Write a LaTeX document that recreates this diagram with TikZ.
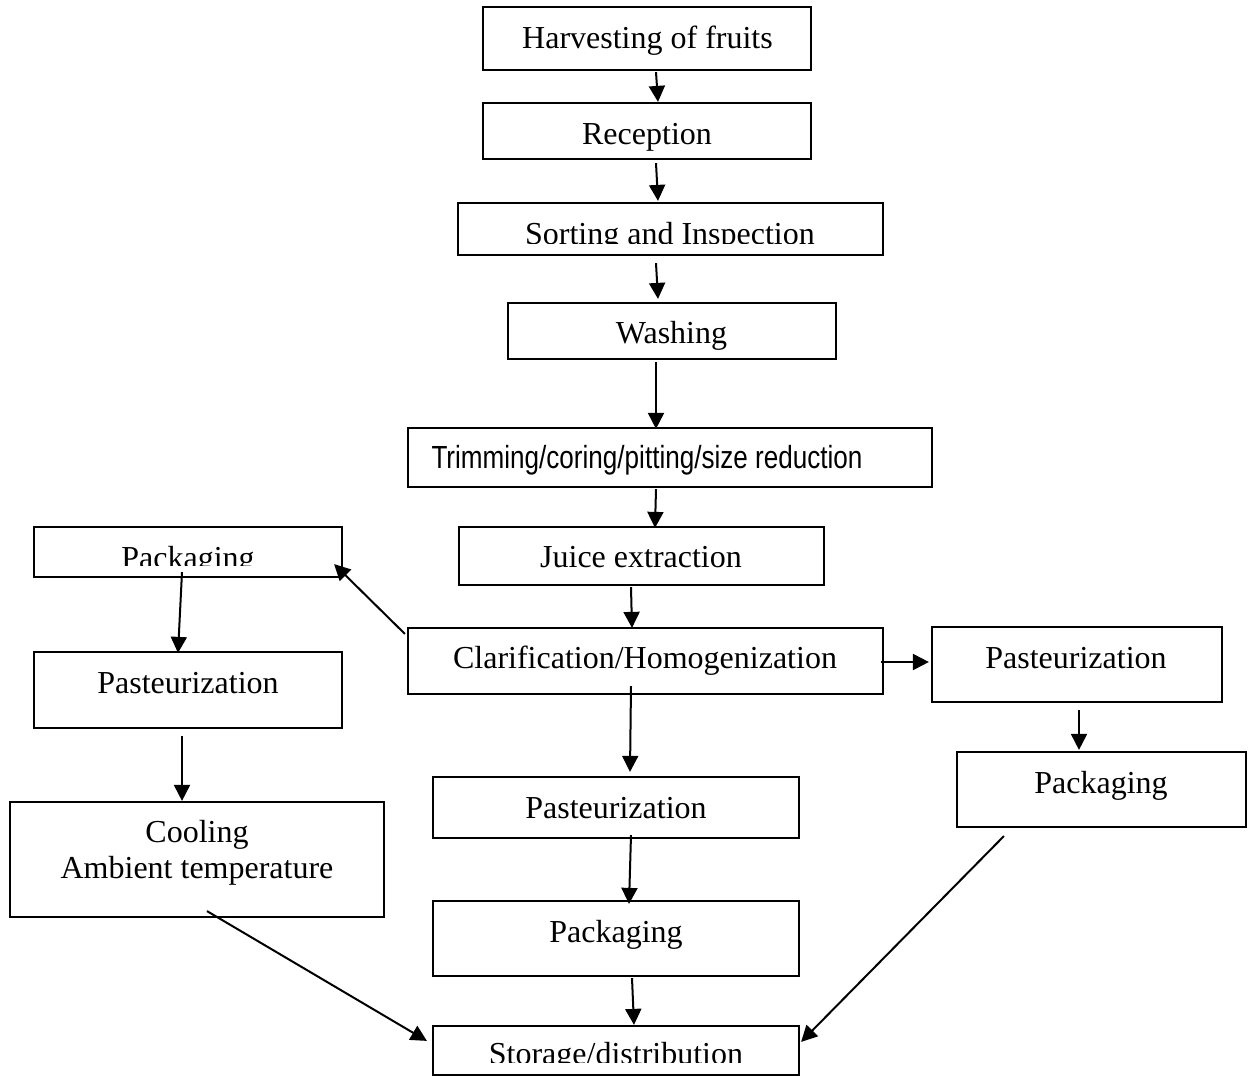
\documentclass[tikz,border=0pt]{standalone}
\usepackage{fontspec}
\setmainfont{Liberation Serif}
\newfontfamily\narrowsans[FakeStretch=0.815]{Liberation Sans}
\usetikzlibrary{arrows.meta,calc}
\begin{document}
\begin{tikzpicture}[x=0.5pt,y=-0.5pt,
  box/.style={draw, line width=1.1pt, inner sep=0pt, rectangle},
  lbl/.style={anchor=base, inner sep=0pt, font=\fontsize{16}{19}\selectfont},
  arr/.style={-{Triangle[length=8pt,width=8pt]}, line width=1pt}]
\useasboundingbox (0,0) rectangle (1249,1076);

% boxes
\node[box, minimum width=164pt, minimum height=31.5pt] (harv) at (647,38.5) {};
\node[box, minimum width=164pt, minimum height=28pt] (rec) at (647,131) {};
\node[box, minimum width=212.5pt, minimum height=26pt] (sort) at (670.5,229) {};
\node[box, minimum width=164pt, minimum height=28pt] (wash) at (672,331) {};
\node[box, minimum width=262pt, minimum height=29.5pt] (trim) at (670,457.5) {};
\node[box, minimum width=182.5pt, minimum height=29pt] (juice) at (641.5,556) {};
\node[box, minimum width=237.5pt, minimum height=33pt] (clar) at (645.5,661) {};
\node[box, minimum width=154pt, minimum height=25pt] (pkgL) at (188,552) {};
\node[box, minimum width=154pt, minimum height=38pt] (pasL) at (188,690) {};
\node[box, minimum width=187pt, minimum height=57.5pt] (cool) at (197,859.5) {};
\node[box, minimum width=145pt, minimum height=37.5pt] (pasR) at (1077,664.5) {};
\node[box, minimum width=144.5pt, minimum height=37.5pt] (pkgR) at (1101.5,789.5) {};
\node[box, minimum width=183pt, minimum height=30.5pt] (pasC) at (616,807.5) {};
\node[box, minimum width=183pt, minimum height=37.5pt] (pkgC) at (616,938.5) {};
\node[box, minimum width=183pt, minimum height=24.5pt] (stor) at (616,1050.5) {};

% labels
\node[lbl] (harvT) at (647.5,48) {Harvesting of fruits};
\node[lbl] (recT) at (647,144) {Reception};
\begin{scope}
  \clip (459,204) rectangle (882,243);
  \node[lbl] (sortT) at (670,244) {Sorting and Inspection};
\end{scope}
\node[lbl] (washT) at (671.5,343) {Washing};
\node[lbl, font=\fontsize{16}{19}\narrowsans] (trimT) at (647,468) {Trimming/coring/pitting/size reduction};
\node[lbl] (juiceT) at (641,567) {Juice extraction};
\node[lbl] (clarT) at (645,668) {Clarification/Homogenization};
\begin{scope}
  \clip (35,528) rectangle (341,565);
  \node[lbl] (pkgLT) at (188,568) {Packaging};
\end{scope}
\node[lbl] (pasLT) at (188,693) {Pasteurization};
\node[lbl] (coolT) at (197,842) {Cooling};
\node[lbl] (coolT2) at (197,878) {Ambient temperature};
\node[lbl] (pasRT) at (1076,668) {Pasteurization};
\node[lbl] (pkgRT) at (1101,793) {Packaging};
\node[lbl] (pasCT) at (616,818) {Pasteurization};
\node[lbl] (pkgCT) at (616,942) {Packaging};
\begin{scope}
  \clip (434,1027) rectangle (798,1062);
  \node[lbl] (storT) at (616,1064) {Storage/distribution};
\end{scope}

% connectors
\draw[arr] ($(harv.south)+(9,1)$) -- ($(rec.north)+(11,0)$);
\draw[arr] ($(rec.south)+(9,3)$) -- ($(sort.north)+(-12.5,-1)$);
\draw[arr] ($(sort.south)+(-14.5,7)$) -- ($(wash.north)+(-14,-3)$);
\draw[arr] ($(wash.south)+(-16,2)$) -- ($(trim.north)+(-14,2)$);
\draw[arr] ($(trim.south)+(-14,1)$) -- ($(juice.north)+(13.5,2)$);
\draw[arr] ($(juice.south)+(-10.5,1)$) -- ($(clar.north)+(-13.5,1)$);
\draw[arr] ($(clar.north west)+(-2,7)$) -- ($(pkgL.south east)+(-9,-14)$);
\draw[arr] ($(pkgL.south)+(-6,-6)$) -- ($(pasL.north)+(-10,2)$);
\draw[arr] ($(pasL.south)+(-6,7)$) -- ($(cool.north)+(-15,0)$);
\draw[arr] ($(cool.south)+(10,-7)$) -- ($(stor.north west)+(-5,16)$);
\draw[arr] ($(clar.east)+(-3,1)$) -- ($(pasR.west)+(-2,-2.5)$);
\draw[arr] ($(clar.south)+(-14.5,-9)$) -- ($(pasC.north)+(14,-4)$);
\draw[arr] ($(pasR.south)+(2,7)$) -- ($(pkgR.north)+(-22.5,-1)$);
\draw[arr] ($(pkgR.south west)+(48,8)$) -- ($(stor.north east)+(1,17)$);
\draw[arr] ($(pasC.south)+(15,-4)$) -- ($(pkgC.north)+(13,4)$);
\draw[arr] ($(pkgC.south)+(16,1)$) -- ($(stor.north)+(18,0)$);
\end{tikzpicture}
\end{document}
